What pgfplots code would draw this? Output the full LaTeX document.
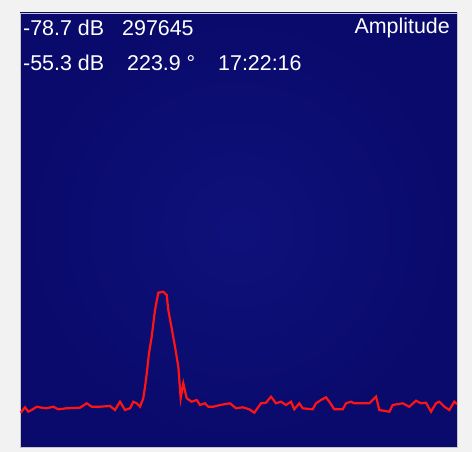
\documentclass[border=0pt]{standalone}
\usepackage{pgfplots}
\pgfplotsset{compat=1.18}
\usepackage{fontspec}
\setmainfont{Liberation Sans}
\definecolor{outerbg}{RGB}{242,242,242}
\definecolor{panelin}{RGB}{15,17,122}
\definecolor{panelout}{RGB}{10,10,108}
\definecolor{trace}{RGB}{255,20,20}
\begin{document}
\begin{tikzpicture}
\path[fill=outerbg] (0,0) rectangle (472bp,452bp);
\begin{axis}[
  at={(20bp,5bp)}, anchor=south west,
  scale only axis, width=437bp, height=434bp,
  xmin=20, xmax=457, ymin=5, ymax=439,
  ticks=none,
  axis line style={draw=gray!45, line width=0.8pt},
  axis background/.style={inner color=panelin, outer color=panelout},
  clip=true,
]
\addplot[trace, line width=2.2pt, line join=miter] coordinates {
(20.7,39.3)(25,44.7)(28.3,40.3)(31.7,42)(36.7,45.3)(41.7,44.3)(46.7,43.7)(53.3,45.3)(58.3,42.7)(66.7,43.7)(80,44.3)(86.7,48.7)(91.7,45.3)(100,45.3)(110,46)(115,42)(120,50.3)(125,42)(130,43.7)(133.3,50.3)(136.7,48.7)(140,45.3)(143.3,53.7)(146,72)(149,98.7)(151.7,115.3)(155,142)(158.3,159.3)(163.3,160.3)(166.7,157)(168.3,142)(171.7,123.7)(175,105.3)(178.3,85.3)(180.7,53.7)(183.3,68.7)(186.7,53.7)(191.7,50.3)(196.7,52)(200,47)(205,48.7)(208.3,45.3)(213.3,45.3)(220,47)(230,48.7)(236,43.7)(242.7,44.7)(249.3,42.7)(254.3,39.3)(261,48.7)(266,49.3)(271,55.3)(276,48.7)(281,50.3)(286,47)(291,50.3)(294.3,42.7)(299.3,48.7)(302.7,43.7)(312.7,42.7)(316,48.7)(321,52)(326,54.7)(329.3,50.3)(334.3,42.7)(342.7,42.7)(346,48.7)(351,50.3)(354.3,48.7)(364.3,48.7)(369.3,48.7)(376,55.3)(379.3,42)(389.3,40.3)(392.7,47)(402.7,48.7)(409.3,45.3)(416,51.3)(421,48.7)(426,49.3)(431,40.3)(436,48.7)(439.3,50.3)(444.3,45.3)(449.3,42)(454.3,50.3)(457,48)
};
\tikzset{lbl/.style={text=white, inner sep=0pt, font=\fontsize{21.5}{25}\selectfont}}
\node[lbl, anchor=base west] at (axis cs:23,416) {-78.7 dB};
\node[lbl, anchor=base west] at (axis cs:122,416) {297645};
\node[lbl, anchor=base west] at (axis cs:23,381) {-55.3 dB};
\node[lbl, anchor=base west] at (axis cs:127,381) {223.9 °};
\node[lbl, anchor=base west] at (axis cs:218,381) {17:22:16};
\node[lbl, anchor=base east] at (axis cs:450,418) {Amplitude};
\end{axis}
\end{tikzpicture}
\end{document}
